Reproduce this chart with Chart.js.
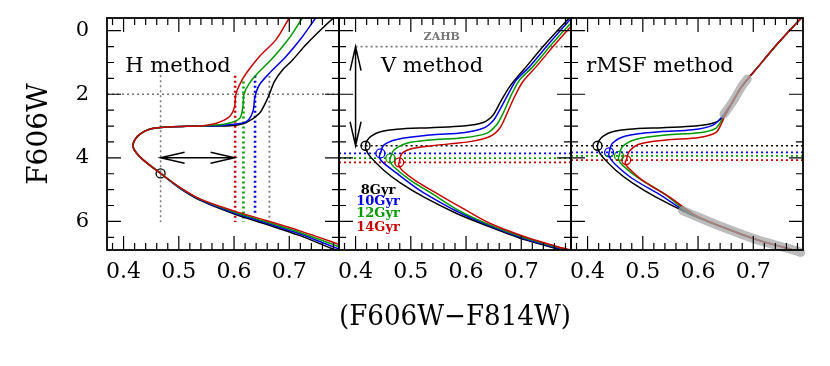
<!DOCTYPE html>
<html>
<head>
<meta charset="utf-8">
<script src="https://cdn.jsdelivr.net/npm/chart.js@4.4.1/dist/chart.umd.min.js"></script>
<style>
body { margin: 0; background: #fff; width: 830px; height: 366px; position: relative; overflow: hidden; }
canvas { position: absolute; top: 0; }
</style>
</head>
<body>
<canvas id="pH" width="349" height="366" style="left:0px"></canvas>
<canvas id="pV" width="252" height="366" style="left:329px"></canvas>
<canvas id="pR" width="252" height="366" style="left:561px"></canvas>
<script>
// axes
const xTickVals = [0.4, 0.5, 0.6, 0.7];
const yTickVals = [0, 2, 4, 6];
const ages = ['8Gyr', '10Gyr', '12Gyr', '14Gyr'];
const ageColors = ['#000000', '#0000e6', '#009a00', '#c80000'];

// H method: isochrones registered at the MS point below the turnoff
const hTurnoff = [[0.467,4.49],[0.436,4.07],[0.423,3.84],[0.417,3.65],[0.420,3.44],[0.429,3.26],[0.447,3.10],[0.478,3.03],[0.514,3.01]];
const hMS8  = [[0.800,7.00],[0.778,6.86],[0.718,6.44],[0.658,6.09],[0.598,5.75],[0.538,5.33],[0.502,4.96]];
const hMS10 = [[0.800,6.93],[0.778,6.79],[0.718,6.39],[0.658,6.05],[0.598,5.72],[0.538,5.31],[0.502,4.95]];
const hMS12 = [[0.800,6.86],[0.778,6.72],[0.718,6.34],[0.658,6.01],[0.598,5.69],[0.538,5.30],[0.502,4.94]];
const hMS14 = [[0.800,6.79],[0.778,6.65],[0.718,6.29],[0.658,5.97],[0.598,5.66],[0.538,5.29],[0.502,4.93]];
const hRGB8  = [[0.560,3.00],[0.598,2.98],[0.622,2.89],[0.646,2.60],[0.658,2.23],[0.664,2.00],[0.673,1.60],[0.688,1.23],[0.706,0.92],[0.730,0.44],[0.760,-0.08],[0.790,-0.56]];
const hRGB10 = [[0.560,3.00],[0.586,2.97],[0.622,2.86],[0.634,2.55],[0.638,2.07],[0.646,1.70],[0.664,1.34],[0.694,0.81],[0.724,0.18],[0.748,-0.40],[0.760,-0.62]];
const hRGB12 = [[0.550,2.99],[0.586,2.93],[0.610,2.76],[0.616,2.39],[0.618,2.00],[0.628,1.65],[0.646,1.28],[0.670,0.86],[0.700,0.23],[0.724,-0.40],[0.736,-0.62]];
const hRGB14 = [[0.538,3.00],[0.568,2.91],[0.592,2.70],[0.601,2.39],[0.603,2.02],[0.610,1.70],[0.622,1.34],[0.646,0.81],[0.676,0.28],[0.700,-0.40],[0.710,-0.62]];
const hRefPoint = [[0.467,4.49]];
const hRefMag = 2.0;
const hColorAtRef = [0.664, 0.638, 0.617, 0.602];   // 8,10,12,14 Gyr
const hArrow = [[0.467,4.0],[0.601,4.0]];

// V method: unshifted isochrones
const v8  = [[0.800,7.02],[0.775,6.91],[0.709,6.59],[0.643,6.17],[0.583,5.75],[0.523,5.23],[0.481,4.79],[0.451,4.39],[0.427,3.97],[0.419,3.75],[0.418,3.62],[0.421,3.45],[0.429,3.31],[0.445,3.18],[0.475,3.10],[0.535,3.05],[0.595,3.00],[0.631,2.89],[0.649,2.65],[0.661,2.28],[0.679,1.76],[0.709,1.13],[0.745,0.39],[0.787,-0.40],[0.800,-0.60]];
const v10 = [[0.800,6.99],[0.775,6.88],[0.709,6.56],[0.643,6.14],[0.583,5.68],[0.535,5.22],[0.511,4.96],[0.475,4.49],[0.448,4.12],[0.443,3.96],[0.445,3.86],[0.451,3.60],[0.475,3.42],[0.535,3.28],[0.595,3.21],[0.631,3.07],[0.649,2.83],[0.661,2.49],[0.679,1.91],[0.691,1.55],[0.715,1.13],[0.751,0.39],[0.787,-0.32],[0.800,-0.55]];
const v12 = [[0.800,6.97],[0.775,6.86],[0.709,6.53],[0.643,6.11],[0.583,5.62],[0.535,5.09],[0.499,4.70],[0.469,4.28],[0.462,4.10],[0.463,4.01],[0.469,3.76],[0.493,3.54],[0.535,3.44],[0.595,3.37],[0.637,3.23],[0.655,2.97],[0.667,2.60],[0.682,2.02],[0.697,1.55],[0.721,1.13],[0.757,0.39],[0.787,-0.19],[0.800,-0.45]];
const v14 = [[0.800,6.95],[0.775,6.84],[0.709,6.50],[0.643,6.06],[0.595,5.60],[0.547,5.12],[0.511,4.75],[0.484,4.39],[0.478,4.22],[0.479,4.14],[0.484,3.86],[0.505,3.70],[0.547,3.60],[0.607,3.49],[0.643,3.33],[0.661,3.07],[0.673,2.65],[0.688,2.07],[0.703,1.60],[0.727,1.13],[0.763,0.39],[0.787,-0.08],[0.800,-0.30]];
const vTurnoffs = [[0.418,3.62],[0.445,3.86],[0.463,4.01],[0.479,4.14]];
const zahbMag = 0.5;
const vArrow = [[0.400,0.5],[0.400,3.62]];

// rMSF method: isochrones registered on the MS and lower RGB
const r10 = [[0.800,7.02],[0.775,6.91],[0.709,6.59],[0.643,6.17],[0.583,5.74],[0.530,5.15],[0.481,4.65],[0.448,4.17],[0.439,3.95],[0.439,3.83],[0.445,3.54],[0.469,3.31],[0.530,3.18],[0.590,3.12],[0.627,2.97],[0.644,2.70],[0.653,2.48],[0.661,2.28],[0.679,1.76],[0.709,1.13],[0.745,0.39],[0.787,-0.40],[0.800,-0.60]];
const r12 = [[0.800,7.02],[0.775,6.91],[0.709,6.59],[0.643,6.17],[0.583,5.72],[0.542,5.17],[0.493,4.65],[0.463,4.23],[0.456,4.05],[0.457,3.94],[0.463,3.65],[0.487,3.42],[0.542,3.28],[0.602,3.21],[0.632,3.07],[0.645,2.75],[0.653,2.50],[0.661,2.28],[0.679,1.76],[0.709,1.13],[0.745,0.39],[0.787,-0.40],[0.800,-0.60]];
const r14 = [[0.800,7.02],[0.775,6.91],[0.709,6.59],[0.643,6.17],[0.595,5.80],[0.548,5.23],[0.499,4.70],[0.472,4.28],[0.468,4.15],[0.470,4.07],[0.475,3.81],[0.493,3.57],[0.542,3.44],[0.602,3.36],[0.632,3.21],[0.644,2.86],[0.651,2.58],[0.661,2.28],[0.679,1.76],[0.709,1.13],[0.745,0.39],[0.787,-0.40],[0.800,-0.60]];
const rTurnoffs = [[0.418,3.62],[0.439,3.83],[0.457,3.94],[0.470,4.07]];
const rFitRGB = [[0.647,2.62],[0.661,2.28],[0.679,1.76],[0.689,1.52]];
const rFitMS = [[0.572,5.66],[0.643,6.17],[0.709,6.59],[0.775,6.91],[0.786,6.98]];

const X_MIN = 0.37, X_MAX = 0.79, Y_MIN = -0.4, Y_MAX = 6.9;
const serif = 'DejaVu Serif';

const pts = a => a.map(([x, y]) => ({x, y}));
const line = (a, color) => ({data: pts(a), borderColor: color, borderWidth: 1.5, showLine: true, pointRadius: 0, tension: 0.3, fill: false});
const dots = (a, color, w) => ({data: pts(a), borderColor: color, borderWidth: w, borderDash: [2, 3], showLine: true, pointRadius: 0, tension: 0});
const rings = (a, color) => ({data: pts(a), showLine: false, pointRadius: 4.5, pointBorderWidth: 1.3, pointBorderColor: color, pointBackgroundColor: 'rgba(0,0,0,0)'});
const band = a => ({data: pts(a), borderColor: 'rgba(165,165,165,0.75)', borderWidth: 9, borderCapStyle: 'round', showLine: true, pointRadius: 0, tension: 0.3, clip: 10});

const xMinor = [], yMinor = [];
for (let v = 0.38; v < 0.785; v += 0.02) xMinor.push(v);
for (let v = 0; v <= 6.6; v += 0.5) yMinor.push(v);

const frameTicks = {
  id: 'frameTicks',
  afterDatasetsDraw(chart) {
    const {ctx, chartArea: a, scales: {x, y}} = chart;
    ctx.save();
    ctx.strokeStyle = '#000';
    ctx.lineWidth = 1.2;
    ctx.beginPath();
    const tx = (v, len) => { const p = x.getPixelForValue(v); ctx.moveTo(p, a.bottom); ctx.lineTo(p, a.bottom - len); ctx.moveTo(p, a.top); ctx.lineTo(p, a.top + len); };
    const ty = (v, len) => { const p = y.getPixelForValue(v); ctx.moveTo(a.left, p); ctx.lineTo(a.left + len, p); ctx.moveTo(a.right, p); ctx.lineTo(a.right - len, p); };
    xMinor.forEach(v => tx(v, 7));
    xTickVals.forEach(v => tx(v, 14));
    yMinor.forEach(v => ty(v, 7));
    yTickVals.forEach(v => ty(v, 14));
    ctx.stroke();
    ctx.lineWidth = 1.8;
    ctx.strokeRect(a.left, a.top, a.width, a.height);
    ctx.restore();
  }
};

const notes = {
  id: 'notes',
  afterDatasetsDraw(chart, args, opts) {
    const {ctx, scales: {x, y}} = chart;
    ctx.save();
    (opts.arrows || []).forEach(([p, q]) => {
      const x1 = x.getPixelForValue(p[0]), y1 = y.getPixelForValue(p[1]);
      const x2 = x.getPixelForValue(q[0]), y2 = y.getPixelForValue(q[1]);
      const ang = Math.atan2(y2 - y1, x2 - x1), L = 24, W = 5.5;
      ctx.strokeStyle = '#000'; ctx.lineWidth = 1.5;
      ctx.beginPath();
      ctx.moveTo(x1, y1); ctx.lineTo(x2, y2);
      [[x1, y1, ang], [x2, y2, ang + Math.PI]].forEach(([hx, hy, t]) => {
        const c = Math.cos(t), s = Math.sin(t);
        ctx.moveTo(hx + L * c - W * s, hy + L * s + W * c); ctx.lineTo(hx, hy);
        ctx.lineTo(hx + L * c + W * s, hy + L * s - W * c);
      });
      ctx.stroke();
    });
    (opts.texts || []).forEach(t => {
      ctx.font = t.font;
      ctx.fillStyle = t.color || '#000';
      ctx.textAlign = 'center';
      ctx.textBaseline = 'middle';
      ctx.fillText(t.text, x.getPixelForValue(t.at[0]), y.getPixelForValue(t.at[1]));
    });
    ctx.restore();
  }
};

function panel(id, datasets, cfg) {
  return new Chart(document.getElementById(id), {
    type: 'scatter',
    data: {datasets},
    plugins: [frameTicks, notes],
    options: {
      responsive: false, animation: false, devicePixelRatio: 1,
      layout: {padding: {left: 0, right: 10, top: 18, bottom: 0}},
      plugins: {legend: {display: false}, tooltip: {enabled: false}, notes: cfg.notes},
      scales: {
        x: {
          type: 'linear', min: X_MIN, max: X_MAX,
          grid: {display: false, drawTicks: false}, border: {display: false},
          afterBuildTicks: s => { s.ticks = xTickVals.map(v => ({value: v})); },
          afterFit: s => { s.height = 116; s.paddingLeft = 0; s.paddingRight = 0; },
          ticks: {color: '#000', font: {family: serif, size: 22}, padding: 9, maxRotation: 0, callback: v => v.toFixed(1)},
          title: {display: !!cfg.xTitle, text: cfg.xTitle || '', color: '#000', font: {family: serif, size: 28}, padding: {top: 0, bottom: 31}}
        },
        y: {
          type: 'linear', min: Y_MIN, max: Y_MAX, reverse: true,
          grid: {display: false, drawTicks: false}, border: {display: false},
          afterBuildTicks: s => { s.ticks = yTickVals.map(v => ({value: v})); },
          afterFit: s => { s.width = cfg.yWidth; s.paddingTop = 0; s.paddingBottom = 0; },
          ticks: {display: !!cfg.yTitle, color: '#000', font: {family: serif, size: 21}, padding: 18, callback: v => String(v)},
          title: {display: !!cfg.yTitle, text: cfg.yTitle || '', color: '#000', font: {family: serif, size: 28}, padding: {top: 23, bottom: 0}}
        }
      }
    }
  });
}

const fullWidth = m => [[X_MIN, m], [X_MAX, m]];
const methodFont = '21px "' + serif + '"';

// H method panel
panel('pH', [
  line([...hMS14, ...hTurnoff, ...hRGB14], ageColors[3]),
  line([...hMS12, ...hTurnoff, ...hRGB12], ageColors[2]),
  line([...hMS10, ...hTurnoff, ...hRGB10], ageColors[1]),
  line([...hMS8, ...hTurnoff, ...hRGB8], ageColors[0]),
  dots(fullWidth(hRefMag), '#777', 1.5),
  dots([[hRefPoint[0][0], 1.4], [hRefPoint[0][0], 6.02]], '#777', 1.5),
  dots([[hColorAtRef[0], 1.42], [hColorAtRef[0], 6.02]], '#777', 1.8),
  dots([[hColorAtRef[1], 1.42], [hColorAtRef[1], 5.8]], ageColors[1], 2.6),
  dots([[hColorAtRef[2], 1.6], [hColorAtRef[2], 6.02]], ageColors[2], 2.6),
  dots([[hColorAtRef[3], 1.42], [hColorAtRef[3], 6.02]], ageColors[3], 2.6),
  rings(hRefPoint, '#000')
], {
  yWidth: 107, yTitle: 'F606W',
  notes: {arrows: [hArrow], texts: [{at: [0.4986, 1.14], text: 'H method', font: methodFont}]}
});

// V method panel
panel('pV', [
  line(v14, ageColors[3]), line(v12, ageColors[2]), line(v10, ageColors[1]), line(v8, ageColors[0]),
  dots([[0.400, zahbMag], [X_MAX, zahbMag]], '#777', 1.6),
  dots([[0.400, vTurnoffs[0][1]], [X_MAX, vTurnoffs[0][1]]], '#000', 1.6),
  dots(fullWidth(vTurnoffs[1][1]), ageColors[1], 1.8),
  dots(fullWidth(vTurnoffs[2][1]), ageColors[2], 1.8),
  dots(fullWidth(vTurnoffs[3][1]), ageColors[3], 1.8),
  ...vTurnoffs.map((p, i) => rings([p], ageColors[i]))
], {
  yWidth: 10, xTitle: '(F606W\u2212F814W)',
  notes: {
    arrows: [vArrow],
    texts: [
      {at: [0.5385, 1.14], text: 'V method', font: methodFont},
      {at: [0.556, 0.2], text: 'ZAHB', font: 'bold 11px "' + serif + '"', color: '#777'},
      ...ages.map((a, i) => ({at: [0.4407, [5.02, 5.39, 5.77, 6.2][i]], text: a, font: 'bold 13px "' + serif + '"', color: ageColors[i]}))
    ]
  }
});

// rMSF method panel
panel('pR', [
  band(rFitRGB), band(rFitMS),
  line(r14, ageColors[3]), line(r12, ageColors[2]), line(r10, ageColors[1]), line(v8, ageColors[0]),
  dots(fullWidth(rTurnoffs[0][1]), '#000', 1.6),
  dots(fullWidth(rTurnoffs[1][1]), ageColors[1], 1.8),
  dots(fullWidth(rTurnoffs[2][1]), ageColors[2], 1.8),
  dots(fullWidth(rTurnoffs[3][1]), ageColors[3], 1.8),
  ...rTurnoffs.map((p, i) => rings([p], ageColors[i]))
], {
  yWidth: 10,
  notes: {texts: [{at: [0.531, 1.14], text: 'rMSF method', font: methodFont}]}
});
</script>
</body>
</html>
